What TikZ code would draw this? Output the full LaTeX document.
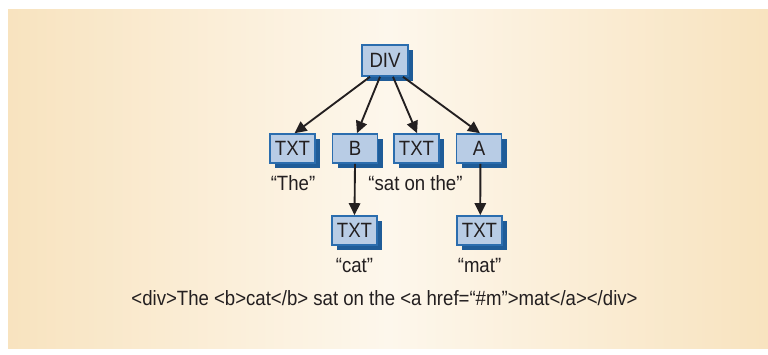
\documentclass[tikz,border=0pt]{standalone}
\usepackage{fontspec}
\setmainfont{Liberation Sans}[FakeStretch=0.9]
\usetikzlibrary{arrows.meta,shadows}
\definecolor{bgedge}{HTML}{F8E3BF}
\definecolor{bgmid}{HTML}{FDF7EC}
\definecolor{boxfill}{HTML}{B8CCE5}
\definecolor{boxline}{HTML}{2B6DAE}
\definecolor{boxshadow}{HTML}{1F5C98}
\definecolor{ink}{HTML}{231F20}
\tikzset{
  elem/.style={draw=boxline, fill=boxfill, line width=1.2pt, inner sep=0pt,
    minimum width=33.75pt, minimum height=21.75pt, text=ink,
    font=\fontsize{15.5}{17}\selectfont,
    drop shadow={shadow xshift=4pt, shadow yshift=-4pt, opacity=1, fill=boxshadow}},
  lbl/.style={anchor=base, text=ink, inner sep=0pt, font=\fontsize{15.5}{17}\selectfont},
  arr/.style={draw=ink, line width=1.4pt, -{Triangle[length=9pt,width=8.5pt]}}
}
\begin{document}
\begin{tikzpicture}[x=0.75pt,y=-0.75pt]
\useasboundingbox (0,0) rectangle (768,354);
\shade[left color=bgedge, right color=bgedge, middle color=bgmid] (8,9) rectangle (768,348);
\node[elem, minimum width=34.5pt, minimum height=23.25pt] (div) at (385,60.5) {DIV};
\node[elem] (t1) at (292.5,148.5) {TXT};
\node[elem] (b) at (355,148.5) {B};
\node[elem] (t2) at (416.5,148.5) {TXT};
\node[elem] (a) at (479,148.5) {A};
\node[elem] (tc) at (354.5,230.5) {TXT};
\node[elem] (tm) at (479.5,230.5) {TXT};
\draw[arr] ([xshift=-11.25pt]div.south) -- ([xshift=1.5pt]t1.north);
\draw[arr] ([xshift=-3.75pt]div.south) -- ([xshift=1.5pt]b.north);
\draw[arr] ([xshift=6pt]div.south) -- ([xshift=0.4pt]t2.north);
\draw[arr] ([xshift=13.5pt]div.south) -- ([xshift=0.75pt]a.north);
\draw[arr] (b.south) -- (tc.north);
\draw[arr] ([xshift=1pt]a.south) -- ([xshift=0.6pt]tm.north);
\node[lbl] (lthe) at (293,190.5) {“The”};
\node[lbl] (lsat) at (415.5,190.5) {“sat on the”};
\node[lbl] (lcat) at (354.5,272) {“cat”};
\node[lbl] (lmat) at (479.5,272) {“mat”};
\node[lbl] (code) at (384.5,305.5) {<div>The <b>cat</b> sat on the <a href=“\#m”>mat</a></div>};
\end{tikzpicture}
\end{document}
